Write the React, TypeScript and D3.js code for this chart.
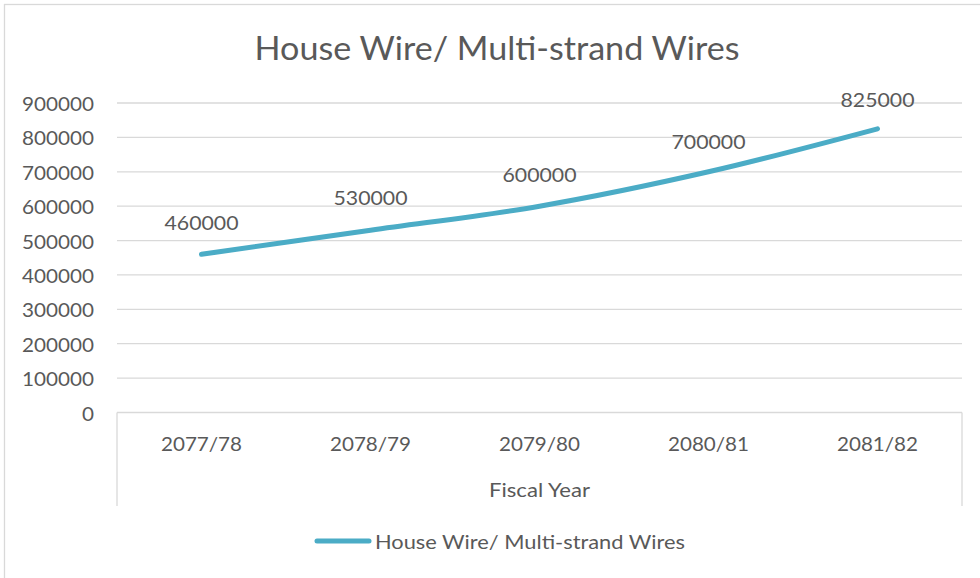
import React from "react";
import * as d3 from "d3";

const categories = ["2077/78", "2078/79", "2079/80", "2080/81", "2081/82"];
const seriesName = "House Wire/ Multi-strand Wires";
const values = [460000, 530000, 600000, 700000, 825000];
const yTicks = [0, 100000, 200000, 300000, 400000, 500000, 600000, 700000, 800000, 900000];
const title = "House Wire/ Multi-strand Wires";
const xTitle = "Fiscal Year";

const W = 980;
const H = 578;
const FONT = "Lato, 'Open Sans', sans-serif";
const TEXT = "#595959";
const GRID = "#d9d9d9";
const LINE = "#4bacc6";

export default function App() {
  const left = 117;
  const right = 962;
  const top = 103;
  const bottom = 412.5;
  const x = d3.scaleBand<string>().domain(categories).range([left, right]);
  const y = d3.scaleLinear().domain([0, 900000]).range([bottom, top]);
  const cx = (c: string) => (x(c) as number) + x.bandwidth() / 2;
  const line = d3
    .line<number>()
    .x((_, i) => cx(categories[i]))
    .y((d) => y(d))
    .curve(d3.curveCatmullRom.alpha(0.5));
  const labelDy = [-32, -33, -32, -31, -30];

  return (
    <svg
      width={W}
      height={H}
      style={{ position: "absolute", left: 0, top: 0, background: "#fff" }}
      fontFamily={FONT}
    >
      <rect x={4.5} y={4.5} width={1000} height={600} fill="#fff" stroke={GRID} strokeWidth={1.3} />
      <text x={497} y={47} textAnchor="middle" dominantBaseline="central" fontSize={32} fill={TEXT}
        textLength={485} lengthAdjust="spacingAndGlyphs">
        {title}
      </text>
      {yTicks.map((t) => (
        <g key={t}>
          <line x1={left} x2={right} y1={y(t)} y2={y(t)} stroke={GRID} strokeWidth={1.3} />
          <text x={94} y={y(t)} textAnchor="end" dominantBaseline="central" fontSize={20} fill={TEXT}
            textLength={String(t).length * 12} lengthAdjust="spacingAndGlyphs">
            {t}
          </text>
        </g>
      ))}
      <line x1={left} x2={left} y1={bottom} y2={506} stroke={GRID} strokeWidth={1.3} />
      <line x1={right} x2={right} y1={bottom} y2={506} stroke={GRID} strokeWidth={1.3} />
      {categories.map((c) => (
        <text key={c} x={cx(c)} y={443} textAnchor="middle" dominantBaseline="central" fontSize={20} fill={TEXT}
          textLength={81} lengthAdjust="spacingAndGlyphs">
          {c}
        </text>
      ))}
      <text x={(left + right) / 2} y={489} textAnchor="middle" dominantBaseline="central" fontSize={20} fill={TEXT}
        textLength={101} lengthAdjust="spacingAndGlyphs">
        {xTitle}
      </text>
      <path d={line(values) || ""} fill="none" stroke={LINE} strokeWidth={5} strokeLinecap="round" />
      {values.map((v, i) => (
        <text key={i} x={cx(categories[i])} y={y(v) + labelDy[i]} textAnchor="middle" dominantBaseline="central"
          fontSize={20} fill={TEXT} textLength={74} lengthAdjust="spacingAndGlyphs">
          {v}
        </text>
      ))}
      <line x1={317} x2={369} y1={541} y2={541} stroke={LINE} strokeWidth={5} strokeLinecap="round" />
      <text x={375} y={541} dominantBaseline="central" fontSize={20} fill={TEXT}
        textLength={310} lengthAdjust="spacingAndGlyphs">
        {seriesName}
      </text>
    </svg>
  );
}
